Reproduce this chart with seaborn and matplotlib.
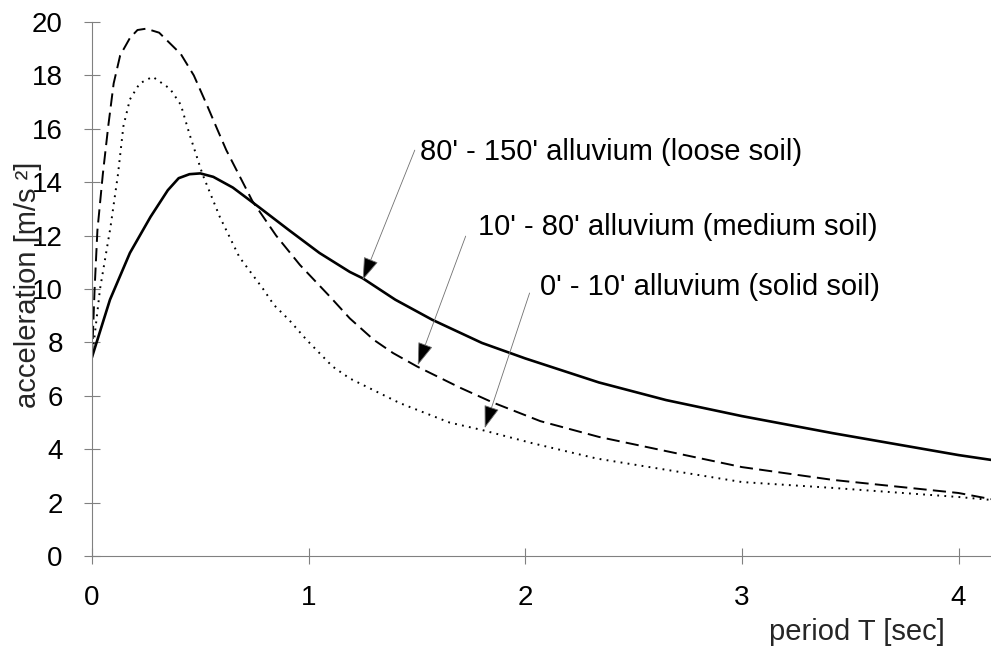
import matplotlib
matplotlib.use("Agg")
import matplotlib.pyplot as plt
import seaborn as sns

# ---- data ----
loose_T = [0.0, 0.083, 0.175, 0.27, 0.35, 0.40, 0.45, 0.50, 0.56, 0.65, 0.77, 0.91,
           1.05, 1.19, 1.25, 1.40, 1.57, 1.80, 2.0, 2.34, 2.65, 3.0, 3.42, 4.0, 4.15]
loose_acc = [7.45, 9.6, 11.35, 12.7, 13.7, 14.15, 14.3, 14.33, 14.2, 13.8, 13.07, 12.2,
             11.35, 10.64, 10.4, 9.6, 8.85, 7.98, 7.4, 6.5, 5.84, 5.24, 4.6, 3.78, 3.6]

medium_T = [0.0, 0.012, 0.025, 0.05, 0.075, 0.10, 0.13, 0.175, 0.21, 0.25, 0.31,
            0.41, 0.47, 0.53, 0.58, 0.62, 0.74, 0.85, 0.96, 1.10, 1.19, 1.30, 1.39,
            1.50, 1.70, 1.85, 2.07, 2.34, 3.0, 3.42, 4.0, 4.15]
medium_acc = [7.4, 10.0, 12.2, 14.3, 16.1, 17.7, 18.75, 19.4, 19.7, 19.75, 19.6,
              18.8, 18.0, 16.9, 15.95, 15.2, 13.3, 12.0, 10.9, 9.7, 8.9, 8.1, 7.6,
              7.1, 6.3, 5.75, 5.05, 4.46, 3.33, 2.85, 2.36, 2.13]

solid_T = [0.0, 0.037, 0.085, 0.12, 0.145, 0.175, 0.22, 0.28, 0.36, 0.41, 0.45,
           0.51, 0.59, 0.68, 0.79, 0.84, 0.91, 0.99, 1.11, 1.19, 1.42, 1.65,
           1.80, 2.03, 2.33, 3.0, 3.42, 4.0, 4.15]
solid_acc = [7.4, 10.0, 12.3, 14.3, 16.1, 17.1, 17.7, 17.95, 17.5, 16.9, 15.8,
             14.3, 12.7, 11.2, 10.0, 9.4, 8.84, 8.1, 7.1, 6.65, 5.73, 5.0,
             4.72, 4.23, 3.65, 2.77, 2.55, 2.21, 2.1]

x_ticks = [0, 1, 2, 3, 4]
y_ticks = [0, 2, 4, 6, 8, 10, 12, 14, 16, 18, 20]

labels = ["80' - 150' alluvium (loose soil)",
          "10' - 80' alluvium (medium soil)",
          "0' - 10' alluvium (solid soil)"]

# annotation geometry (data coordinates)
label_xy = [(1.513, 15.13), (1.78, 12.32), (2.067, 10.07)]
arrow_from = [(1.49, 15.2), (1.725, 11.98), (2.02, 9.85)]
arrow_to = [(1.25, 10.34), (1.504, 7.15), (1.813, 4.79)]

# ---- style ----
sns.set_style("ticks")
plt.rcParams["font.family"] = ["Liberation Sans", "DejaVu Sans"]
plt.rcParams["lines.scale_dashes"] = False

fig = plt.figure(figsize=(9.91, 6.46), dpi=100)
ax = fig.add_axes([92 / 991, 1 - 556 / 646, 1 - 92 / 991, (556 - 22) / 646])

sns.lineplot(x=loose_T, y=loose_acc, ax=ax, color="black", lw=1.9, sort=False)
sns.lineplot(x=medium_T, y=medium_acc, ax=ax, color="black", lw=1.4, sort=False)
sns.lineplot(x=solid_T, y=solid_acc, ax=ax, color="black", lw=1.4, sort=False)

ax.lines[1].set_dashes([9.5, 4.5])
ax.lines[1].set_dash_capstyle("butt")
ax.lines[2].set_dashes([1.3, 3.8])
ax.lines[2].set_dash_capstyle("butt")

ax.set_xlim(0, 4.15)
ax.set_ylim(0, 20)
ax.set_xticks(x_ticks)
ax.set_yticks(y_ticks)

for s in ["top", "right"]:
    ax.spines[s].set_visible(False)
for s in ["left", "bottom"]:
    ax.spines[s].set_color("#808080")
    ax.spines[s].set_linewidth(0.8)

ax.tick_params(direction="inout", length=12, width=0.8, color="#808080",
               pad=15, labelsize=20, labelcolor="black")

ax.set_xlabel("period T [sec]", fontsize=21, ha="right", va="center")
ax.xaxis.set_label_coords((945 - 92) / 899, (556 - 632) / 534)
ax.set_ylabel("acceleration [m/s \u00b2]", fontsize=21, va="center")
ax.yaxis.set_label_coords((28 - 92) / 899, (556 - 285) / 534)

for lab, (tx, ty), (sx, sy), (ex, ey) in zip(labels, label_xy, arrow_from, arrow_to):
    ax.text(tx, ty, lab, fontsize=21, ha="left", va="center", color="black")
    ax.annotate("", xy=(ex, ey), xytext=(sx, sy),
                arrowprops=dict(arrowstyle="-|>,head_length=0.8,head_width=0.27",
                                mutation_scale=18, lw=0.6, ec="#707070",
                                fc="black", shrinkA=0, shrinkB=0))

fig.savefig("out.png", dpi=100)
